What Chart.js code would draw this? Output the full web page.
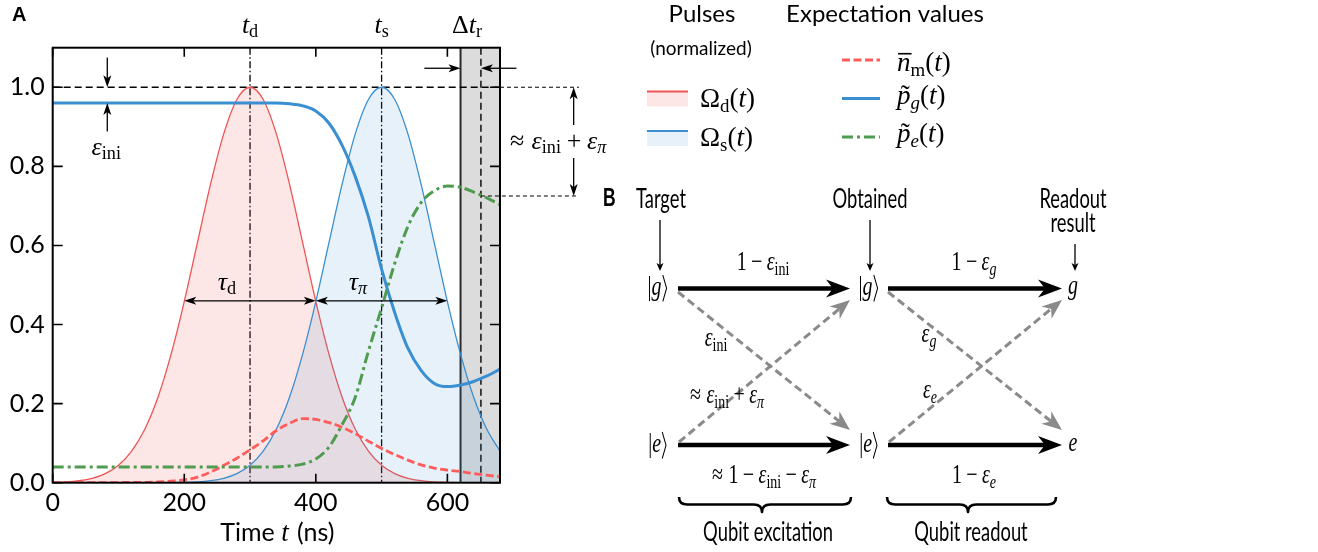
<!DOCTYPE html>
<html>
<head>
<meta charset="utf-8">
<script src="https://cdn.jsdelivr.net/npm/chart.js@4.4.1/dist/chart.umd.min.js"></script>
<style>
  html, body { margin: 0; padding: 0; background: #fff; }
  canvas { display: block; }
</style>
</head>
<body>
<canvas id="fig" width="1318" height="552"></canvas>
<script>
// ---- time grid (ns) and traces ----
const timeNs = [0, 20, 40, 60, 80, 100, 120, 140, 160, 180, 200, 220, 240, 260, 280, 300, 320, 340,
                360, 380, 400, 420, 440, 460, 480, 500, 520, 540, 560, 580, 600, 620, 640, 660, 680];

// normalized drive pulse Omega_d(t)
const omegaD = [0.001, 0.002, 0.005, 0.011, 0.023, 0.044, 0.080, 0.135, 0.216, 0.325, 0.458, 0.607,
                0.755, 0.882, 0.969, 1.000, 0.969, 0.882, 0.755, 0.607, 0.458, 0.325, 0.216, 0.135,
                0.080, 0.044, 0.023, 0.011, 0.005, 0.002, 0.001, 0.000, 0.000, 0.000, 0.000];

// normalized stimulated pulse Omega_s(t)
const omegaS = [0.000, 0.000, 0.000, 0.000, 0.000, 0.000, 0.000, 0.000, 0.000, 0.000, 0.001, 0.002,
                0.005, 0.011, 0.023, 0.044, 0.080, 0.135, 0.216, 0.325, 0.458, 0.607, 0.755, 0.882,
                0.969, 1.000, 0.969, 0.882, 0.755, 0.607, 0.458, 0.325, 0.216, 0.135, 0.080];

// mean resonator photon number
const nM = [0.000, 0.000, 0.000, 0.000, 0.000, 0.000, 0.001, 0.001, 0.002, 0.004, 0.007, 0.014,
            0.027, 0.044, 0.062, 0.083, 0.106, 0.132, 0.150, 0.162, 0.160, 0.152, 0.140, 0.124,
            0.105, 0.087, 0.071, 0.057, 0.045, 0.037, 0.032, 0.028, 0.023, 0.019, 0.015];

// ground-state population
const pG = [0.960, 0.960, 0.960, 0.960, 0.960, 0.960, 0.960, 0.960, 0.960, 0.960, 0.960, 0.960,
            0.960, 0.960, 0.960, 0.960, 0.960, 0.960, 0.958, 0.953, 0.940, 0.909, 0.853, 0.774,
            0.672, 0.540, 0.430, 0.340, 0.284, 0.251, 0.243, 0.247, 0.256, 0.270, 0.287];

// excited-state population
const pE = [0.040, 0.040, 0.040, 0.040, 0.040, 0.040, 0.040, 0.040, 0.040, 0.040, 0.040, 0.040,
            0.040, 0.040, 0.040, 0.040, 0.040, 0.040, 0.042, 0.047, 0.060, 0.090, 0.147, 0.216,
            0.333, 0.442, 0.555, 0.648, 0.708, 0.738, 0.750, 0.747, 0.735, 0.720, 0.703];

const xTickValues = [0, 200, 400, 600];
const yTickValues = [0.0, 0.2, 0.4, 0.6, 0.8, 1.0];

// characteristic times (ns) and levels
const tDrive = 300, tStim = 500;
const readoutStart = 620, readoutMark = 651, timeMax = 680;
const tauLevel = 0.46, groundLevel = 0.96, excitedLevel = 0.725;

// ---- styling ----
const SANS = 'Lato, "Open Sans", sans-serif';
const SERIF = '"Liberation Serif", "DejaVu Serif", serif';
const RED = '#ef5454', RED_FILL = 'rgba(240,80,80,0.143)';
const BLUE = '#3a8fd0', BLUE_FILL = 'rgba(58,143,208,0.127)';
const NM_RED = '#ff5c5c', PG_BLUE = '#3a8fd1', PE_GREEN = '#4f9b4f';

const pts = arr => timeNs.map((t, i) => ({ x: t, y: arr[i] }));

// ---- drawing helpers ----
// segments: [text, kind]; kinds: i italic, r roman, si/sr subscripts,
// ti italic with tilde, bar italic with overline, rangle ket bracket; ['sp', em] is a space
function mathItems(ctx, segs, S) {
  const out = []; let x = 0;
  for (const [txt, kind] of segs) {
    if (txt === 'sp') { x += kind * S; continue; }
    const sub = kind === 'si' || kind === 'sr';
    const italic = ['i', 'si', 'ti', 'bar'].includes(kind);
    const size = sub ? S * 0.7 : S;
    const font = `${italic ? 'italic ' : ''}${size}px ${SERIF}`;
    let w;
    if (kind === 'rangle') w = 0.34 * S;
    else { ctx.font = font; w = ctx.measureText(txt).width; }
    out.push({ txt, kind, x, w, font, dy: sub ? 0.17 * S : 0 });
    x += w;
  }
  return { items: out, width: x };
}

function drawMath(ctx, segs, x, y, S, align = 'left', sx = 1) {
  const m = mathItems(ctx, segs, S);
  const w = m.width * sx;
  const x0 = align === 'center' ? x - w / 2 : align === 'right' ? x - w : x;
  ctx.save();
  ctx.translate(x0, y);
  ctx.scale(sx, 1);
  ctx.fillStyle = '#000'; ctx.strokeStyle = '#000';
  ctx.textAlign = 'left'; ctx.textBaseline = 'alphabetic';
  for (const it of m.items) {
    if (it.kind === 'rangle') {
      ctx.lineWidth = 0.05 * S;
      ctx.beginPath();
      ctx.moveTo(it.x + 0.06 * S, -0.74 * S);
      ctx.lineTo(it.x + 0.25 * S, -0.25 * S);
      ctx.lineTo(it.x + 0.06 * S, 0.24 * S);
      ctx.stroke();
      continue;
    }
    ctx.font = it.font;
    ctx.fillText(it.txt, it.x, it.dy);
    if (it.kind === 'ti') {
      ctx.font = `${S}px ${SERIF}`;
      const tw = ctx.measureText('\u02DC').width;
      ctx.fillText('\u02DC', it.x + it.w / 2 - tw / 2 + 0.06 * S, 0);
    }
    if (it.kind === 'bar') {
      ctx.lineWidth = 0.06 * S;
      ctx.beginPath();
      ctx.moveTo(it.x + 0.04 * S, -0.64 * S);
      ctx.lineTo(it.x + it.w + 0.04 * S, -0.64 * S);
      ctx.stroke();
    }
  }
  ctx.restore();
}

function drawText(ctx, txt, x, y, font, align = 'center', sx = 1) {
  ctx.save();
  ctx.font = font;
  const w = ctx.measureText(txt).width * sx;
  const x0 = align === 'center' ? x - w / 2 : align === 'right' ? x - w : x;
  ctx.translate(x0, y);
  ctx.scale(sx, 1);
  ctx.fillStyle = '#000';
  ctx.textAlign = 'left'; ctx.textBaseline = 'alphabetic';
  ctx.fillText(txt, 0, 0);
  ctx.restore();
}

function head(ctx, x, y, ang, len, half, notch, color) {
  ctx.save();
  ctx.translate(x, y); ctx.rotate(ang);
  ctx.fillStyle = color;
  ctx.beginPath();
  ctx.moveTo(0, 0);
  ctx.lineTo(-len, -half);
  ctx.lineTo(-len + notch, 0);
  ctx.lineTo(-len, half);
  ctx.closePath();
  ctx.fill();
  ctx.restore();
}

// arrow from (x1,y1) to (x2,y2); both=true puts a head on each end
function arrow(ctx, x1, y1, x2, y2, o) {
  const ang = Math.atan2(y2 - y1, x2 - x1);
  const back = o.len - o.notch;
  const ex = x2 - Math.cos(ang) * back, ey = y2 - Math.sin(ang) * back;
  let sx = x1, sy = y1;
  if (o.both) { sx = x1 + Math.cos(ang) * back; sy = y1 + Math.sin(ang) * back; }
  ctx.save();
  ctx.strokeStyle = o.color; ctx.lineWidth = o.lw;
  ctx.setLineDash(o.dash || []);
  ctx.beginPath(); ctx.moveTo(sx, sy); ctx.lineTo(ex, ey); ctx.stroke();
  ctx.setLineDash([]);
  head(ctx, x2, y2, ang, o.len, o.half, o.notch, o.color);
  if (o.both) head(ctx, x1, y1, ang + Math.PI, o.len, o.half, o.notch, o.color);
  ctx.restore();
}

function line(ctx, x1, y1, x2, y2, color, lw, dash) {
  ctx.save();
  ctx.strokeStyle = color; ctx.lineWidth = lw;
  ctx.setLineDash(dash || []);
  ctx.beginPath(); ctx.moveTo(x1, y1); ctx.lineTo(x2, y2); ctx.stroke();
  ctx.restore();
}

function hbrace(ctx, x0, x1, xm, y0, depth, lw) {
  const y1 = y0 + depth * 0.5, y2 = y0 + depth, r = depth * 0.55;
  ctx.save();
  ctx.strokeStyle = '#000'; ctx.lineWidth = lw; ctx.lineJoin = 'round';
  ctx.beginPath();
  ctx.moveTo(x0, y0);
  ctx.quadraticCurveTo(x0, y1, x0 + r, y1);
  ctx.lineTo(xm - r, y1);
  ctx.quadraticCurveTo(xm, y1, xm, y2);
  ctx.quadraticCurveTo(xm, y1, xm + r, y1);
  ctx.lineTo(x1 - r, y1);
  ctx.quadraticCurveTo(x1, y1, x1, y0);
  ctx.stroke();
  ctx.restore();
}

// ---- panel A decorations and panel B scheme ----
const figurePlugin = {
  id: 'figure',
  beforeDatasetsDraw(chart) {
    const { ctx, chartArea: a, scales: { x, y } } = chart;
    ctx.save();
    ctx.beginPath(); ctx.rect(a.left, a.top, a.right - a.left, a.bottom - a.top); ctx.clip();
    // readout window
    const xr0 = x.getPixelForValue(readoutStart), xr1 = x.getPixelForValue(timeMax);
    ctx.fillStyle = '#dcdcdc';
    ctx.fillRect(xr0, a.top, xr1 - xr0, a.bottom - a.top);
    line(ctx, xr0, a.top, xr0, a.bottom, '#2a2a2a', 2);
    const xm = x.getPixelForValue(readoutMark);
    line(ctx, xm, a.top, xm, a.bottom, '#000', 1.4, [7, 4]);
    // pulse centres
    for (const t of [tDrive, tStim]) {
      const px = x.getPixelForValue(t);
      line(ctx, px, a.top, px, a.bottom, '#000', 1.3, [7, 2.5, 1.5, 2.5]);
    }
    // unit level
    const y1 = y.getPixelForValue(1.0);
    line(ctx, a.left, y1, a.right, y1, '#000', 1.4, [7, 4]);
    ctx.restore();
  },
  afterDraw(chart) {
    const { ctx, chartArea: a, scales: { x, y } } = chart;
    const X = v => x.getPixelForValue(v), Y = v => y.getPixelForValue(v);

    // frame and inward ticks
    ctx.save();
    ctx.strokeStyle = '#000'; ctx.lineWidth = 2;
    ctx.strokeRect(a.left, a.top, a.right - a.left, a.bottom - a.top);
    ctx.lineWidth = 1.6;
    ctx.beginPath();
    for (const v of xTickValues) {
      const px = X(v);
      ctx.moveTo(px, a.bottom); ctx.lineTo(px, a.bottom - 9);
      ctx.moveTo(px, a.top); ctx.lineTo(px, a.top + 9);
    }
    for (const v of yTickValues) {
      const py = Y(v);
      ctx.moveTo(a.left, py); ctx.lineTo(a.left + 10, py);
      ctx.moveTo(a.right, py); ctx.lineTo(a.right - 10, py);
    }
    ctx.stroke();
    ctx.restore();

    // dashed guides leaving the axes
    const y1 = Y(1.0), yE = Y(excitedLevel), xOut = X(800);
    line(ctx, a.right, y1, xOut, y1, '#000', 1, [4, 3]);
    line(ctx, X(readoutMark), yE, xOut, yE, '#000', 1, [4, 3]);

    const thin = { lw: 1.3, len: 12, half: 4, notch: 3, color: '#000' };
    // epsilon_ini markers
    const xe = X(83);
    arrow(ctx, xe, Y(1.075), xe, y1, thin);
    arrow(ctx, xe, Y(0.888), xe, Y(groundLevel), thin);
    drawMath(ctx, [['ε', 'i'], ['ini', 'sr']], xe - 1, 155, 26, 'center');

    // pulse widths
    const yT = Y(tauLevel);
    arrow(ctx, X(200), yT, X(400), yT, { ...thin, both: true });
    arrow(ctx, X(400), yT, X(600), yT, { ...thin, both: true });
    drawMath(ctx, [['τ', 'i'], ['d', 'sr']], 227, 290, 26, 'center');
    drawMath(ctx, [['τ', 'i'], ['π', 'si']], 358, 290, 26, 'center');

    // readout window width
    const yR = Y(1.048);
    arrow(ctx, X(565), yR, X(readoutStart), yR, thin);
    arrow(ctx, X(705), yR, X(readoutMark), yR, thin);

    // labels above the frame
    drawMath(ctx, [['t', 'i'], ['d', 'sr']], X(tDrive), 33, 26, 'center');
    drawMath(ctx, [['t', 'i'], ['s', 'sr']], X(tStim), 33, 26, 'center');
    drawMath(ctx, [['Δ', 'r'], ['t', 'i'], ['r', 'sr']], 467, 33, 26, 'center');

    // error budget between unit level and final excited population
    const xv = X(792);
    arrow(ctx, xv, 125, xv, y1, thin);
    arrow(ctx, xv, 158, xv, yE, thin);
    drawMath(ctx, [['≈', 'r'], ['sp', 0.28], ['ε', 'i'], ['ini', 'sr'], ['sp', 0.22], ['+', 'r'], ['sp', 0.22], ['ε', 'i'], ['π', 'si']], 510, 149, 26, 'left');

    // axis title
    ctx.save();
    const fSans = `25px ${SANS}`, fT = `italic 27px ${SERIF}`;
    ctx.font = fSans; const w1 = ctx.measureText('Time ').width, w3 = ctx.measureText(' (ns)').width;
    ctx.font = fT; const w2 = ctx.measureText('t').width;
    const tx = (a.left + a.right) / 2 - (w1 + w2 + w3) / 2;
    ctx.fillStyle = '#000'; ctx.textBaseline = 'alphabetic'; ctx.textAlign = 'left';
    ctx.font = fSans; ctx.fillText('Time ', tx, 541);
    ctx.font = fT; ctx.fillText('t', tx + w1, 541);
    ctx.font = fSans; ctx.fillText(' (ns)', tx + w1 + w2 + 2, 541);
    ctx.restore();

    // panel letters
    drawText(ctx, 'A', 12, 21, `bold 20px "Liberation Sans", sans-serif`, 'left');
    drawText(ctx, 'B', 603, 206, `bold 25px "Liberation Sans", sans-serif`, 'left', 0.7);

    // ---- legend ----
    const ds = chart.data.datasets;
    drawText(ctx, 'Pulses', 702, 22, `24px ${SANS}`);
    drawText(ctx, '(normalized)', 701, 55, `19px ${SANS}`);
    drawText(ctx, 'Expectation values', 885, 22, `24px ${SANS}`);
    const patch = (dset, top, mathSegs, base) => {
      ctx.fillStyle = dset.backgroundColor;
      ctx.fillRect(647, top, 41, 15);
      line(ctx, 647, top, 688, top, dset.borderColor, 2);
      drawMath(ctx, mathSegs, 700, base, 27, 'left');
    };
    patch(ds[0], 91.5, [['Ω', 'r'], ['d', 'sr'], ['(', 'r'], ['t', 'i'], [')', 'r']], 107);
    patch(ds[1], 131, [['Ω', 'r'], ['s', 'sr'], ['(', 'r'], ['t', 'i'], [')', 'r']], 146);
    const sample = (dset, yy, mathSegs, base) => {
      line(ctx, 842, yy, 880, yy, dset.borderColor, dset.borderWidth, dset.borderDash);
      drawMath(ctx, mathSegs, 897, base, 27, 'left');
    };
    sample(ds[2], 60, [['n', 'bar'], ['m', 'sr'], ['(', 'r'], ['t', 'i'], [')', 'r']], 71);
    sample(ds[3], 98.5, [['p', 'ti'], ['g', 'si'], ['(', 'r'], ['t', 'i'], [')', 'r']], 104);
    sample(ds[4], 137, [['p', 'ti'], ['e', 'si'], ['(', 'r'], ['t', 'i'], [')', 'r']], 142);

    // ---- panel B: excitation and readout error scheme ----
    const SX = 0.68, fB = `27px ${SANS}`, MS = 27, MSX = 0.74;
    drawText(ctx, 'Target', 661, 208, fB, 'center', SX);
    drawText(ctx, 'Obtained', 870, 208, fB, 'center', SX);
    drawText(ctx, 'Readout', 1073, 208, fB, 'center', SX);
    drawText(ctx, 'result', 1073, 232, fB, 'center', SX);
    const small = { lw: 1.3, len: 8, half: 3.5, notch: 2, color: '#000' };
    arrow(ctx, 660, 220, 660, 271, small);
    arrow(ctx, 870, 220, 870, 271, small);
    arrow(ctx, 1075, 244, 1075, 271, small);

    const ket = l => [['|', 'r'], [l, 'i'], ['⟩', 'rangle']];
    const yG = 288.5, yEx = 445;
    drawMath(ctx, ket('g'), 658, 295, MS, 'center', MSX);
    drawMath(ctx, ket('e'), 658, 452, MS, 'center', MSX);
    drawMath(ctx, ket('g'), 869, 295, MS, 'center', MSX);
    drawMath(ctx, ket('e'), 869, 452, MS, 'center', MSX);
    drawMath(ctx, [['g', 'i']], 1073, 294, MS, 'center', MSX);
    drawMath(ctx, [['e', 'i']], 1073, 451, MS, 'center', MSX);

    const bold = { lw: 4.5, len: 24, half: 9, notch: 7, color: '#000' };
    const grey = { lw: 3, len: 20, half: 8, notch: 6, color: '#8a8a8a', dash: [8, 4.5] };
    for (const [x0, x1] of [[678, 850], [888, 1062]]) {
      arrow(ctx, x0, yG, x1, yG, bold);
      arrow(ctx, x0, yEx, x1, yEx, bold);
      arrow(ctx, x0, 292, x1, 430, grey);
      arrow(ctx, x0 + 1, 442, x1, 300, grey);
    }

    const eps = (sub, kind) => [['ε', 'i'], [sub, kind]];
    const minus = [['sp', 0.22], ['−', 'r'], ['sp', 0.22]];
    const plus = [['sp', 0.22], ['+', 'r'], ['sp', 0.22]];
    drawMath(ctx, [['1', 'r'], ...minus, ...eps('ini', 'sr')], 763, 270, MS, 'center', MSX);
    drawMath(ctx, [['1', 'r'], ...minus, ...eps('g', 'si')], 974, 270, MS, 'center', MSX);
    drawMath(ctx, eps('ini', 'sr'), 716, 346, MS, 'center', MSX);
    drawMath(ctx, eps('g', 'si'), 929, 342, MS, 'center', MSX);
    drawMath(ctx, [['≈', 'r'], ['sp', 0.28], ...eps('ini', 'sr'), ...plus, ...eps('π', 'si')], 727, 403, MS, 'center', MSX);
    drawMath(ctx, eps('e', 'si'), 930, 398, MS, 'center', MSX);
    drawMath(ctx, [['≈', 'r'], ['sp', 0.28], ['1', 'r'], ...minus, ...eps('ini', 'sr'), ...minus, ...eps('π', 'si')], 764, 483, MS, 'center', MSX);
    drawMath(ctx, [['1', 'r'], ...minus, ...eps('e', 'si')], 974, 483, MS, 'center', MSX);

    hbrace(ctx, 679, 851, 762, 497, 15, 2.6);
    hbrace(ctx, 887, 1056, 968, 497, 15, 2.6);
    drawText(ctx, 'Qubit excitation', 768, 541, fB, 'center', SX);
    drawText(ctx, 'Qubit readout', 971, 541, fB, 'center', SX);
  }
};

new Chart(document.getElementById('fig').getContext('2d'), {
  type: 'line',
  data: {
    datasets: [
      { label: 'Ωd(t)', data: pts(omegaD), borderColor: RED, backgroundColor: RED_FILL,
        borderWidth: 1.3, fill: 'origin', order: 5 },
      { label: 'Ωs(t)', data: pts(omegaS), borderColor: BLUE, backgroundColor: BLUE_FILL,
        borderWidth: 1.3, fill: 'origin', order: 4 },
      { label: 'n̄m(t)', data: pts(nM), borderColor: NM_RED, borderWidth: 2.8,
        borderDash: [8, 3.5], fill: false, order: 3 },
      { label: 'p̃g(t)', data: pts(pG), borderColor: PG_BLUE, borderWidth: 3,
        fill: false, order: 2 },
      { label: 'p̃e(t)', data: pts(pE), borderColor: PE_GREEN, borderWidth: 3,
        borderDash: [11, 4, 3, 4], fill: false, order: 1 }
    ]
  },
  options: {
    responsive: false,
    animation: false,
    devicePixelRatio: 1,
    layout: { padding: { left: 0, top: 47.7, right: 818, bottom: 0 } },
    elements: {
      point: { radius: 0 },
      line: { cubicInterpolationMode: 'monotone', borderCapStyle: 'butt' }
    },
    plugins: { legend: { display: false }, tooltip: { enabled: false } },
    scales: {
      x: {
        type: 'linear', min: 0, max: timeMax,
        grid: { display: false, drawTicks: false },
        border: { display: false },
        ticks: { color: '#000', padding: 5, maxRotation: 0, font: { family: 'Lato', size: 25 },
                 callback: v => String(v) },
        afterBuildTicks: s => { s.ticks = xTickValues.map(v => ({ value: v })); },
        afterFit: s => { s.height = 69.3; }
      },
      y: {
        type: 'linear', min: 0, max: 1.1,
        grid: { display: false, drawTicks: false },
        border: { display: false },
        ticks: { color: '#000', padding: 8, font: { family: 'Lato', size: 25 },
                 callback: v => v.toFixed(1) },
        afterBuildTicks: s => { s.ticks = yTickValues.map(v => ({ value: v })); },
        afterFit: s => { s.width = 52.7; }
      }
    }
  },
  plugins: [figurePlugin]
});
</script>
</body>
</html>
